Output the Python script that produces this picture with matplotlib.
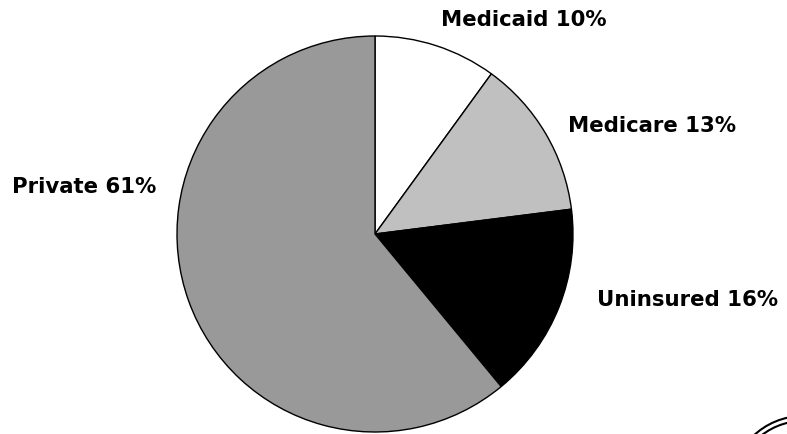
import matplotlib.pyplot as plt
from matplotlib.patches import Arc

# Insurance coverage shares, clockwise from the top
labels = ['Medicaid 10%', 'Medicare 13%', 'Uninsured 16%', 'Private 61%']
shares = [10, 13, 16, 61]
colors = ['#ffffff', '#c0c0c0', '#000000', '#999999']

fig = plt.figure(figsize=(7.87, 4.34), dpi=100)
ax = fig.add_axes([0, 0, 1, 1])

ax.pie(shares, colors=colors, startangle=90, counterclock=False,
       center=(375, 200), radius=198, frame=True,
       wedgeprops=dict(edgecolor='black', linewidth=1.0))
ax.set_xlim(0, 787)
ax.set_ylim(0, 434)
ax.axis('off')

# label positions (left edge, vertical centre)
label_pos = [(441, 414), (568, 308), (597, 134), (12, 247)]
for text, (x, y) in zip(labels, label_pos):
    ax.text(x, y, text, ha='left', va='center', fontsize=15.3,
            fontweight='bold', family='DejaVu Sans')

# decorative logo fragment in the bottom right corner
for r in (72, 67):
    ax.add_patch(Arc((803, -54), 2 * r, 2 * r, theta1=90, theta2=180,
                     color='black', linewidth=1.5))

fig.savefig('out.png', dpi=100)
